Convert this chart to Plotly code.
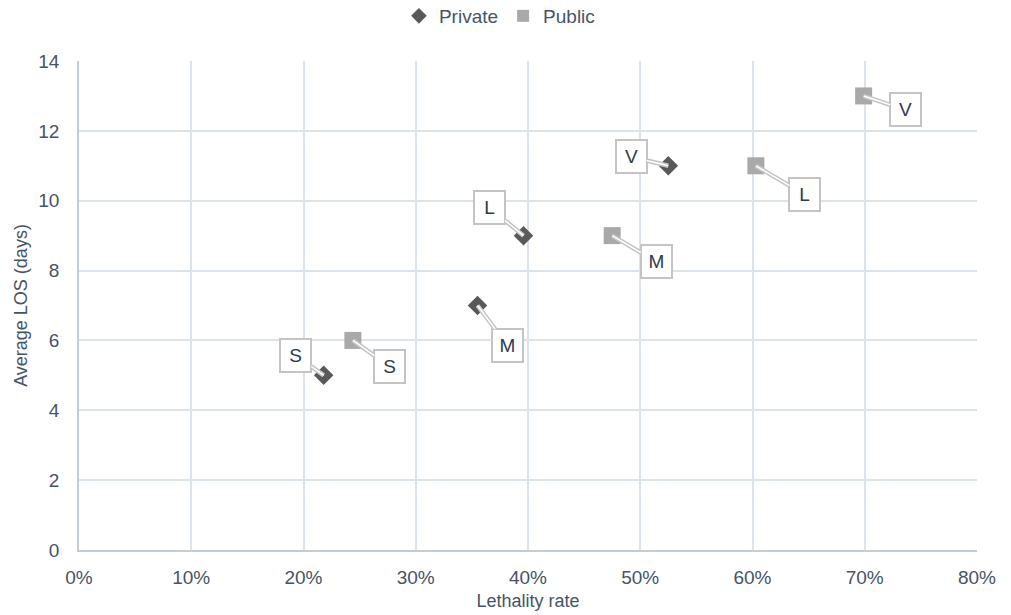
import plotly.graph_objects as go

# Data
private_x = [0.218, 0.355, 0.396, 0.525]
private_y = [5, 7, 9, 11]
private_labels = ["S", "M", "L", "V"]

public_x = [0.244, 0.475, 0.603, 0.699]
public_y = [6, 9, 11, 13]
public_labels = ["S", "M", "L", "V"]

x_ticks = [0, 0.1, 0.2, 0.3, 0.4, 0.5, 0.6, 0.7, 0.8]
y_ticks = [0, 2, 4, 6, 8, 10, 12, 14]

# label offsets (pixels) for the callout boxes
private_offsets = [(-28, -20), (30, 40), (-34, -28), (-37, -9)]
public_offsets = [(37, 26), (44, 26), (49, 29), (42, 14)]

text_color = "#475467"
font_family = "Liberation Sans, Arial, sans-serif"

fig = go.Figure()
fig.add_trace(go.Scatter(
    x=private_x, y=private_y, mode="markers", name="Private",
    marker=dict(symbol="diamond", size=15, color="#595959", line=dict(width=0)),
))
fig.add_trace(go.Scatter(
    x=public_x, y=public_y, mode="markers", name="Public",
    marker=dict(symbol="square", size=17, color="#a9a9a9", line=dict(width=0)),
))

annotations = []
for xs, ys, labs, offs in [(private_x, private_y, private_labels, private_offsets),
                           (public_x, public_y, public_labels, public_offsets)]:
    for xv, yv, lab, (ax, ay) in zip(xs, ys, labs, offs):
        # outer (gray) part of the callout line
        annotations.append(dict(
            x=xv, y=yv, xref="x", yref="y", text=lab,
            showarrow=True, arrowhead=0, arrowwidth=4.5, arrowcolor="#c4c4c4",
            ax=ax, ay=ay, standoff=0, startstandoff=0,
            bgcolor="white", bordercolor="#c4c4c4", borderwidth=2, borderpad=5,
            width=19, height=21,
            font=dict(size=19, color="#2e3a4d", family=font_family),
        ))
        # inner (white) part of the callout line plus the label box
        annotations.append(dict(
            x=xv, y=yv, xref="x", yref="y", text=lab,
            showarrow=True, arrowhead=0, arrowwidth=1.5, arrowcolor="white",
            ax=ax, ay=ay, standoff=0, startstandoff=0,
            bgcolor="white", bordercolor="#c4c4c4", borderwidth=2, borderpad=5,
            width=19, height=21,
            font=dict(size=19, color="#2e3a4d", family=font_family),
        ))

fig.update_layout(
    width=1011, height=615,
    margin=dict(l=79, r=34, t=61, b=65, autoexpand=False),
    paper_bgcolor="white", plot_bgcolor="white",
    font=dict(family=font_family, color=text_color, size=19),
    legend=dict(orientation="h", x=0.494, xanchor="center", xref="container",
                y=0.974, yanchor="middle", yref="container",
                font=dict(size=19, color=text_color), itemwidth=30,
                itemsizing="constant", tracegroupgap=0),
    showlegend=True,
    annotations=annotations,
)

fig.update_xaxes(
    range=[0, 0.8], tickvals=x_ticks, tickformat=".0%",
    showgrid=True, gridcolor="#dde3eb", gridwidth=1.5,
    showline=True, linecolor="#c3ccd8", linewidth=1.5,
    zeroline=False, ticks="", ticklen=0, automargin=False,
    ticklabelstandoff=9,
    title=dict(text="Lethality rate", font=dict(size=18, color=text_color), standoff=8),
    tickfont=dict(size=19, color=text_color),
)
fig.update_yaxes(
    range=[0, 14], tickvals=y_ticks,
    showgrid=True, gridcolor="#dde3eb", gridwidth=1.5,
    showline=True, linecolor="#c3ccd8", linewidth=1.5,
    zeroline=False, ticks="", ticklen=0, automargin=False,
    ticklabelstandoff=14,
    title=dict(text="Average LOS (days)", font=dict(size=18, color=text_color), standoff=6),
    tickfont=dict(size=19, color=text_color),
)

fig.write_html("out.html", config={"displayModeBar": False},
               post_script="document.body.style.margin='0';")
